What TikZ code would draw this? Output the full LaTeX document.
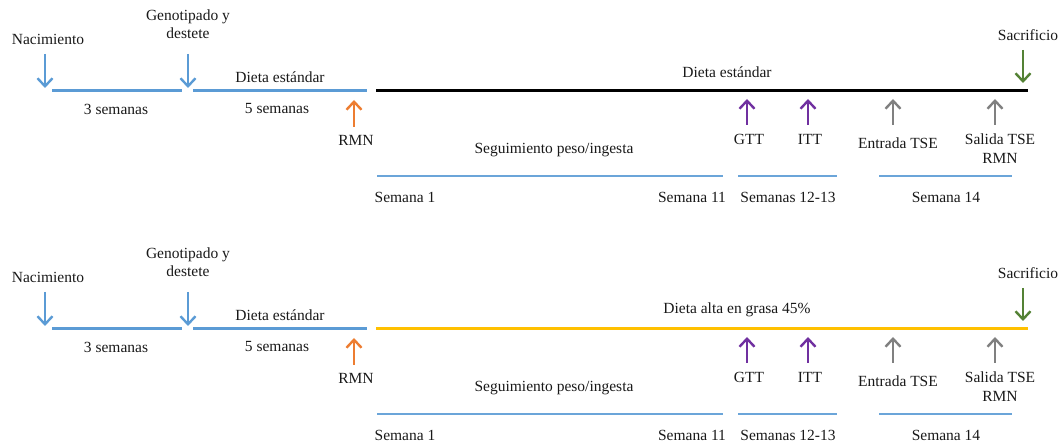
\documentclass[tikz,border=0pt]{standalone}
\usepackage{fontspec}
\setmainfont{Liberation Serif}
\usetikzlibrary{arrows.meta}
\definecolor{cblue}{RGB}{91,155,213}
\definecolor{corange}{RGB}{237,125,49}
\definecolor{cpurple}{RGB}{112,48,160}
\definecolor{cgray}{RGB}{128,128,128}
\definecolor{cgreen}{RGB}{84,130,53}
\definecolor{cyellow}{RGB}{255,192,0}
\tikzset{
  lbl/.style={font=\fontsize{15.5}{18.5}\selectfont, inner sep=0pt, align=center, text=black!90},
  phase/.style={line width=3pt, cblue},
  dietline/.style={line width=3pt},
  spanline/.style={line width=1.3pt, cblue!90},
  evt/.style={line width=2.4pt, -{Straight Barb[length=8pt,width=15pt,line width=2.4pt]}},
}
\newcommand\tlpanel[5]{%
% #1 suffix, #2 y offset, #3 diet color, #4 diet text, #5 diet text x
\begin{scope}[shift={(0,#2)}]
  \node[lbl] (nac#1) at (48,39) {Nacimiento};
  \node[lbl] (gen#1) at (188,24) {Genotipado y\\destete};
  \coordinate (nacA#1) at (45,54);
  \coordinate (nacB#1) at (45,88);
  \coordinate (genA#1) at (188,54);
  \coordinate (genB#1) at (188,88);
  \draw[evt, cblue] (nacA#1) -- (nacB#1);
  \draw[evt, cblue] (genA#1) -- (genB#1);
  \coordinate (p1a#1) at (52,91);
  \coordinate (p1b#1) at (182,91);
  \coordinate (p2a#1) at (193,91);
  \coordinate (p2b#1) at (367,91);
  \draw[phase] (p1a#1) -- (p1b#1);
  \draw[phase] (p2a#1) -- (p2b#1);
  \node[lbl] (de#1) at (280,77) {Dieta estándar};
  \node[lbl] (s3#1) at (116,109) {3 semanas};
  \node[lbl] (s5#1) at (277,109) {5 semanas};
  \coordinate (da#1) at (376,91);
  \coordinate (db#1) at (1028,91);
  \draw[dietline, #3] (da#1) -- (db#1);
  \node[lbl] (dt#1) at (#5,72) {#4};
  % RMN
  \coordinate (rmA#1) at (354,127);
  \coordinate (rmB#1) at (354,100);
  \draw[evt, corange] (rmA#1) -- (rmB#1);
  \node[lbl] (rmn#1) at (356,140) {RMN};
  % GTT ITT
  \coordinate (gtA#1) at (747,125);
  \coordinate (gtB#1) at (747,99);
  \coordinate (itA#1) at (808,125);
  \coordinate (itB#1) at (808,99);
  \draw[evt, cpurple] (gtA#1) -- (gtB#1);
  \draw[evt, cpurple] (itA#1) -- (itB#1);
  \node[lbl] (gtt#1) at (749,139) {GTT};
  \node[lbl] (itt#1) at (810,139) {ITT};
  % TSE
  \coordinate (enA#1) at (893,125);
  \coordinate (enB#1) at (893,99);
  \coordinate (saA#1) at (995,125);
  \coordinate (saB#1) at (995,99);
  \draw[evt, cgray] (enA#1) -- (enB#1);
  \draw[evt, cgray] (saA#1) -- (saB#1);
  \node[lbl] (ent#1) at (898,143) {Entrada TSE};
  \node[lbl, anchor=north] (sal#1) at (1000,134) {Salida TSE\\RMN};
  % Sacrificio
  \node[lbl] (sac#1) at (1028,35) {Sacrificio};
  \coordinate (scA#1) at (1023,50);
  \coordinate (scB#1) at (1023,83);
  \draw[evt, cgreen] (scA#1) -- (scB#1);
  % spans
  \node[lbl] (seg#1) at (554,150) {Seguimiento peso/ingesta};
  \coordinate (s1a#1) at (377,176);
  \coordinate (s1b#1) at (723,176);
  \coordinate (s2a#1) at (738,176);
  \coordinate (s2b#1) at (837,176);
  \coordinate (s3a#1) at (879,176);
  \coordinate (s3b#1) at (1012,176);
  \draw[spanline] (s1a#1) -- (s1b#1);
  \draw[spanline] (s2a#1) -- (s2b#1);
  \draw[spanline] (s3a#1) -- (s3b#1);
  \node[lbl] (w1#1) at (405,197) {Semana 1};
  \node[lbl] (w11#1) at (692,197) {Semana 11};
  \node[lbl] (w12#1) at (788,197) {Semanas 12-13};
  \node[lbl] (w14#1) at (946,197) {Semana 14};
\end{scope}}
\begin{document}
\begin{tikzpicture}[x=1pt,y=-1pt]
  \useasboundingbox (0,0) rectangle (1058,446);
  \tlpanel{t}{0}{black}{Dieta estándar}{727}
  \tlpanel{b}{238}{cyellow}{Dieta alta en grasa 45\%}{737}
\end{tikzpicture}
\end{document}
